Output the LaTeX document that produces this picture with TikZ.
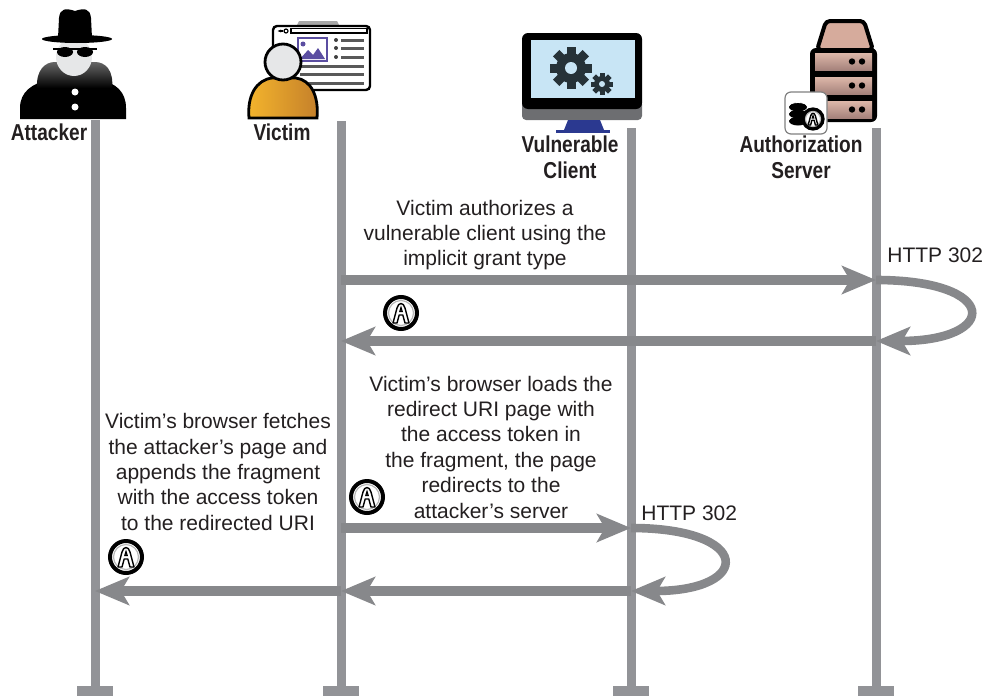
\documentclass[tikz,border=0pt]{standalone}
\usepackage{fontspec}
\setmainfont{Liberation Sans}
\usetikzlibrary{arrows.meta}

\definecolor{lifegray}{HTML}{929397}
\definecolor{arrowgray}{HTML}{87888B}
\definecolor{textgray}{HTML}{231F20}
\definecolor{facegray}{HTML}{E6E7E8}
\definecolor{imgpurple}{HTML}{5B4EA1}
\definecolor{skinorange}{HTML}{F4B52C}
\definecolor{skinbrown}{HTML}{C47F2B}
\definecolor{screenblue}{HTML}{C8E5F5}
\definecolor{chingray}{HTML}{6D6E71}
\definecolor{standblue}{HTML}{2B3990}
\definecolor{geardark}{HTML}{263238}
\definecolor{serverpink}{HTML}{D6AB9C}
\definecolor{drawertop}{HTML}{DDB7A9}
\definecolor{drawerbot}{HTML}{A5827B}

\newcommand{\actorlabel}[1]{\scalebox{0.83}[1]{\begin{tabular}{@{}c@{}}#1\end{tabular}}}

% access token badge
\tikzset{token/.pic={
    \draw[line width=2pt, fill=white] (0,0) circle (16);
    \draw[gray!55, line width=0.6pt] (0,0) circle (12.5);
    \draw[line width=0.7pt, line join=round, fill=white]
      (-8,10) -- (-4,-5) .. controls (-2.5,-11) and (2.5,-11) .. (4,-5) -- (8,10)
      -- (4,10) -- (1.8,2) -- (-1.8,2) -- (-4,10) -- cycle;
    \draw[line width=0.6pt] (-1.2,-1.5) -- (0,-5.5) -- (1.2,-1.5) -- cycle;
}}

\begin{document}
\begin{tikzpicture}[x=0.5pt, y=-0.5pt,
  life/.style={line width=4.5pt, draw=lifegray},
  foot/.style={fill=lifegray, minimum width=18pt, minimum height=5pt, inner sep=0pt},
  msg/.style={line width=5pt, draw=arrowgray, -{Stealth[length=17pt,width=14pt,inset=4pt]}},
  loopmsg/.style={msg, line width=4.3pt},
  note/.style={font=\fontsize{10.5}{12.7}\selectfont, align=center, text=textgray},
  actor/.style={font=\bfseries\fontsize{11.5}{13}\selectfont, text=textgray, inner sep=0pt}]

\useasboundingbox (0,0) rectangle (988,696);

% lifelines
\foreach \n/\x/\t in {att/95/120, vic/341/121, cli/631/128, srv/876/128} {
  \coordinate (\n) at (\x,\t);
  \coordinate (\n-end) at (\x,686);
  \draw[life] (\n) -- (\n-end);
  \node[foot, anchor=north] at (\n-end) {};
}

% message rows
\coordinate (r1) at (0,280);
\coordinate (r2) at (0,341);
\coordinate (r3) at (0,528);
\coordinate (r4) at (0,591);

% attacker
\fill[black] (20,119) -- (20,108) .. controls (20,92) and (32,83) .. (50,80) -- (100,80) .. controls (116,83) and (126,92) .. (126,108) -- (126,119) -- cycle;
\shade[top color=black!60, bottom color=black] (37,88) .. controls (36,70) and (45,62) .. (55,62) -- (95,62) .. controls (105,62) and (114,70) .. (112,88) -- cycle;
\fill[facegray] (74,57) ellipse (18 and 19);
\fill[black] (58,38) -- (59,18) .. controls (60,8) and (66,8) .. (75,11) .. controls (84,8) and (90,8) .. (91,18) -- (92,38) -- cycle;
\fill[black] (77,39) ellipse (35 and 4);
\fill[black] (65,52) ellipse (8 and 5) (85,52) ellipse (8 and 5);
\draw[line width=0.8pt] (53,49) -- (97,49);
\fill[white] (75,92) circle (3.5) (75,107) circle (3.5);
\node[actor] (attacker) at (49,135) {\actorlabel{Attacker}};

% victim
\fill[gray!70] (296,27) -- (299,21) -- (322,21) -- (325,27) -- cycle;
\fill[gray!70] (318,27) -- (321,21) -- (337,21) -- (340,27) -- cycle;
\draw[line width=1.2pt, fill=white, rounded corners=2pt] (273,26) rectangle (370,90);
\draw[line width=0.6pt] (291,28.5) rectangle (367,33);
\draw[line width=0.6pt] (286,31) circle (2);
\draw[-{Latex[length=2pt]}, line width=0.6pt] (283,31) -- (277,31);
\draw[imgpurple, line width=1.2pt, fill=white] (298,38) rectangle (327,61);
\fill[imgpurple] (303,44) circle (2.5);
\fill[imgpurple] (300,59) -- (308,50) -- (313,55) -- (318,48) -- (325,59) -- cycle;
\foreach \y in {40,48,57} {
  \fill[black!75] (336,\y) circle (2);
  \fill[black!65] (341,\y-1.5) rectangle (364,\y+1.5);
}
\foreach \y in {66,74,83}
  \fill[black!65] (300,\y-1.5) rectangle (364,\y+1.5);
\draw[line width=1.4pt, left color=skinorange, right color=skinbrown]
  (249,118) .. controls (247,96) and (256,80) .. (272,78) -- (296,78)
  .. controls (311,80) and (319,96) .. (317,118) -- cycle;
\draw[line width=1.4pt, fill=facegray] (283,62) circle (18);
\node[actor] (victim) at (282,135) {\actorlabel{Victim}};

% vulnerable client
\fill[chingray, rounded corners=2pt] (522,100) rectangle (642,120);
\fill[black, rounded corners=3pt] (522,33) rectangle (642,109);
\fill[screenblue] (531,40) rectangle (635,98);
\fill[standblue] (568,120) -- (600,120) -- (604,130) -- (564,130) -- cycle;
\fill[standblue] (556,130) rectangle (610,133);
\foreach \a in {0,45,...,315}
  \fill[geardark, rotate around={\a:(571,68)}] (566.5,47) rectangle (575.5,56);
\fill[geardark] (571,68) circle (15);
\fill[screenblue] (571,68) circle (6);
\foreach \a in {0,45,...,315}
  \fill[geardark, rotate around={\a:(602,84)}] (599.5,73) rectangle (604.5,78);
\fill[geardark] (602,84) circle (8);
\fill[screenblue] (602,84) circle (3);
\node[actor] (client) at (570,160) {\actorlabel{Vulnerable\\Client}};

% authorization server
\draw[line width=2pt, fill=serverpink, rounded corners=2pt, line join=round] (817,50) -- (826,21) -- (864,21) -- (873,50) -- cycle;
\fill[black, rounded corners=3pt] (810,48) rectangle (877,122);
\foreach \y in {53,77,101} {
  \shade[top color=drawertop, bottom color=drawerbot] (815,\y) rectangle (872,\y+17);
  \fill[black] (852,\y+8.5) circle (3.2) (862,\y+8.5) circle (3.2);
}
\draw[gray, line width=0.6pt, fill=white, rounded corners=3pt] (785,92) rectangle (827,134);
\foreach \y in {121,114,107} {
  \fill[black] (798,\y) ellipse (9 and 4.5);
  \draw[white, line width=0.4pt] (789,\y-1) arc (180:360:9 and 3.5);
}
\pic[scale=0.6] at (813,119) {token};
\node[actor] (server) at (801,160) {\actorlabel{Authorization\\Server}};

% messages
\node[note] (authz) at (485,235) {Victim authorizes a\\vulnerable client using the\\implicit grant type};
\draw[msg] (vic |- r1) -- (srv |- r1);
\node[note, anchor=west, inner sep=0pt] (redir1) at (887,255) {HTTP 302};
\draw[loopmsg] (srv |- r1) .. controls +(124,0) and +(124,0) .. (srv |- r2);
\draw[msg] (srv |- r2) -- (vic |- r2);
\pic at (401,313) {token};

\node[note] (loads) at (491,447) {Victim's browser loads the\\redirect URI page with\\the access token in\\the fragment, the page\\redirects to the\\attacker's server};
\pic at (367,497) {token};
\draw[msg] (vic |- r3) -- (cli |- r3);
\node[note, anchor=west, inner sep=0pt] (redir2) at (641,513) {HTTP 302};
\draw[loopmsg] (cli |- r3) .. controls +(122,0) and +(122,0) .. (cli |- r4);
\draw[msg] (cli |- r4) -- (vic |- r4);

\node[note] (fetch) at (218,472) {Victim's browser fetches\\the attacker's page and\\appends the fragment\\with the access token\\to the redirected URI};
\pic at (126,557) {token};
\draw[msg] (vic |- r4) -- (att |- r4);

\end{tikzpicture}
\end{document}
